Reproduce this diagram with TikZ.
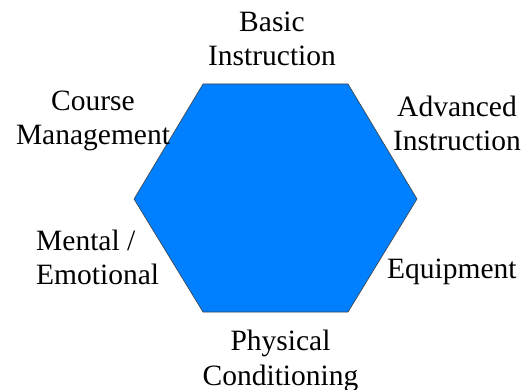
\documentclass[tikz,border=0pt]{standalone}
\usepackage{fontspec}
\setmainfont{Liberation Serif}
\definecolor{hexblue}{RGB}{0,128,255}
\begin{document}
\begin{tikzpicture}[x=1pt,y=-1pt,
  lbl/.style={inner sep=0pt,anchor=base,font=\fontsize{29.5}{34.5}\selectfont},
  hexfill/.style={fill=hexblue,draw=black!75,line width=0.6pt,line join=miter}]
\useasboundingbox (0,0) rectangle (524,390);
\coordinate (tl) at (203,84);
\coordinate (tr) at (348,84);
\coordinate (r) at (417,199);
\coordinate (br) at (348,312);
\coordinate (bl) at (203,312);
\coordinate (l) at (134,199);
\path[hexfill] (tl) -- (tr) -- (r) -- (br) -- (bl) -- (l) -- cycle;
\node[lbl,align=center] (basic) at (272,66) {Basic\\Instruction};
\node[lbl,align=center] (course) at (93,144.7) {Course\\Management};
\node[lbl,align=center] (adv) at (457,150.7) {Advanced\\Instruction};
\node[lbl,align=left,anchor=base west] (mental) at (36,284.7) {Mental /\\Emotional};
\node[lbl,anchor=base west] (equip) at (387,278) {Equipment};
\node[lbl,align=center] (phys) at (280.5,385) {Physical\\Conditioning};
\end{tikzpicture}
\end{document}
